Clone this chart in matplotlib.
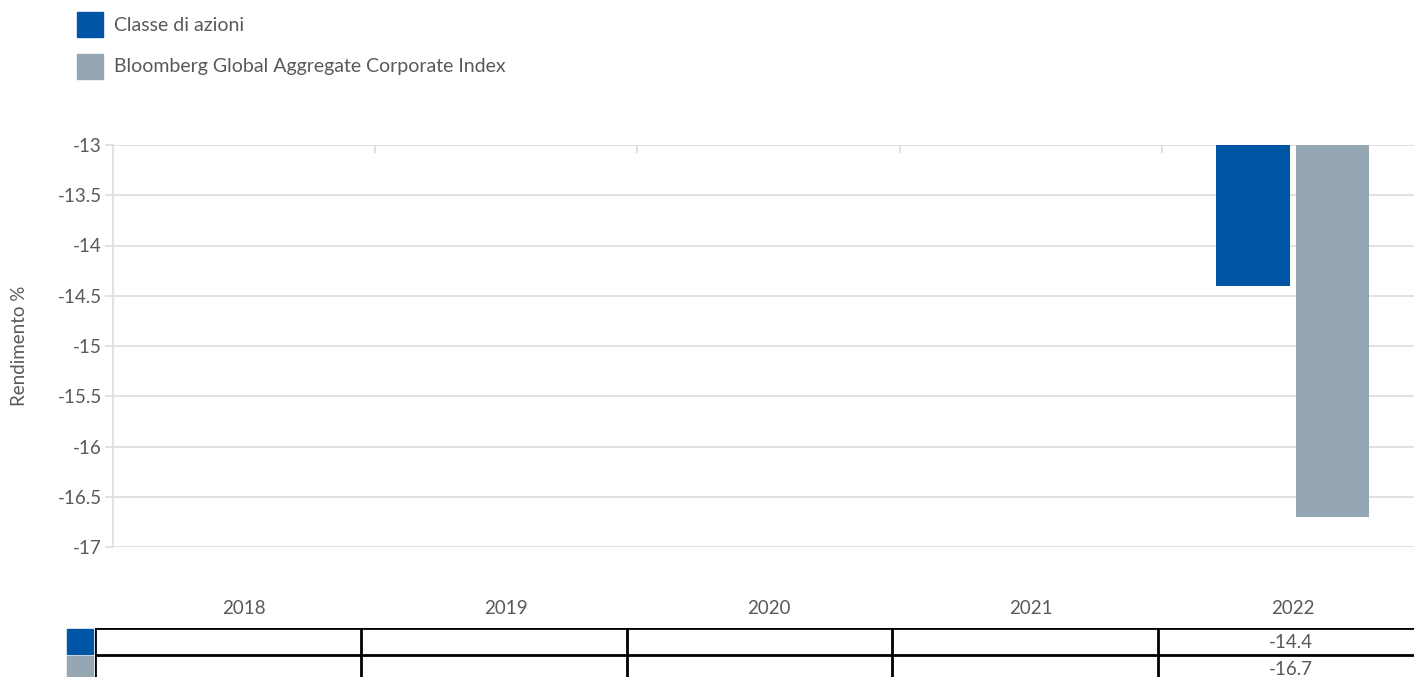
import matplotlib.pyplot as plt
from matplotlib.patches import Rectangle
import numpy as np

# Data
years = ['2018', '2019', '2020', '2021', '2022']
classe_azioni = [np.nan, np.nan, np.nan, np.nan, -14.4]
bloomberg_idx = [np.nan, np.nan, np.nan, np.nan, -16.7]
series_names = ['Classe di azioni', 'Bloomberg Global Aggregate Corporate Index']
y_ticks = [-13, -13.5, -14, -14.5, -15, -15.5, -16, -16.5, -17]

blue = '#0056A4'
grey = '#95A7B3'
txt = '#595959'
gridc = '#DDDDDD'

plt.rcParams['font.family'] = ['Lato', 'DejaVu Sans']
plt.rcParams['font.size'] = 13.5

W, H = 1414, 677
fig = plt.figure(figsize=(W / 100, H / 100), dpi=100)

# main plot area
ax = fig.add_axes([113 / W, (H - 547) / H, (1424 - 113) / W, (547 - 145) / H])
x = np.arange(len(years))
base = -13
bw = 0.28
off = 0.152
ax.bar(x - off, np.array(classe_azioni) - base, bottom=base, width=bw, color=blue, zorder=3)
ax.bar(x + off, np.array(bloomberg_idx) - base, bottom=base, width=bw, color=grey, zorder=3)

ax.set_xlim(-0.5, len(years) - 0.5)
ax.set_ylim(-17, -13)
ax.set_yticks(y_ticks)
ax.set_yticklabels([f'{v:g}' for v in y_ticks])
ax.yaxis.grid(True, color=gridc, linewidth=1.2, zorder=0)
ax.tick_params(axis='y', colors=gridc, labelcolor=txt, length=6, width=1.2, pad=2)

ax.set_xticks(x)
ax.set_xticklabels(years, color=txt)
ax.tick_params(axis='x', which='major', length=0, pad=38)
ax.set_xticks(x[:-1] + 0.5, minor=True)
ax.tick_params(axis='x', which='minor', bottom=False, top=True, direction='in',
               length=6, width=1.2, color=gridc)

for s in ['top', 'right', 'bottom']:
    ax.spines[s].set_visible(False)
ax.spines['left'].set_color(gridc)
ax.spines['left'].set_linewidth(1.2)

ax.set_ylabel('Rendimento %', color=txt)
ax.yaxis.set_label_coords(-(113 - 28) / (1424 - 113), 0.5)

# legend
handles = [Rectangle((0, 0), 1, 1, color=blue), Rectangle((0, 0), 1, 1, color=grey)]
leg = fig.legend(handles, series_names, loc='upper left', bbox_to_anchor=(77 / W, 1 - 12 / H),
                 frameon=False, handlelength=1.35, handleheight=1.6, handletextpad=0.55,
                 labelspacing=0.85, borderaxespad=0, borderpad=0, fontsize=14)
for t in leg.get_texts():
    t.set_color(txt)

# data table under the chart
tab = fig.add_axes([95 / W, -5 / H, (1424 - 95) / W, 54 / H])
tab.set_xlim(-0.5, len(years) - 0.5)
tab.set_ylim(2, 0)
tab.axis('off')
for yy in [0, 1]:
    tab.axhline(yy, color='black', linewidth=2)
for xx in np.arange(-0.5, len(years) - 0.5, 1.0):
    tab.axvline(xx, color='black', linewidth=2)
unit = (1424 - 95) / len(years)
sw = 26 / unit
for r, (vals, c) in enumerate([(classe_azioni, blue), (bloomberg_idx, grey)]):
    tab.add_patch(Rectangle((-0.5 - 28 / unit, r + 0.02), sw, 0.96, color=c, clip_on=False))
    for i, v in enumerate(vals):
        if not np.isnan(v):
            tab.text(i, r + 0.55, f'{v:.1f}', ha='center', va='center', color=txt)

fig.savefig('out.png', dpi=100)
